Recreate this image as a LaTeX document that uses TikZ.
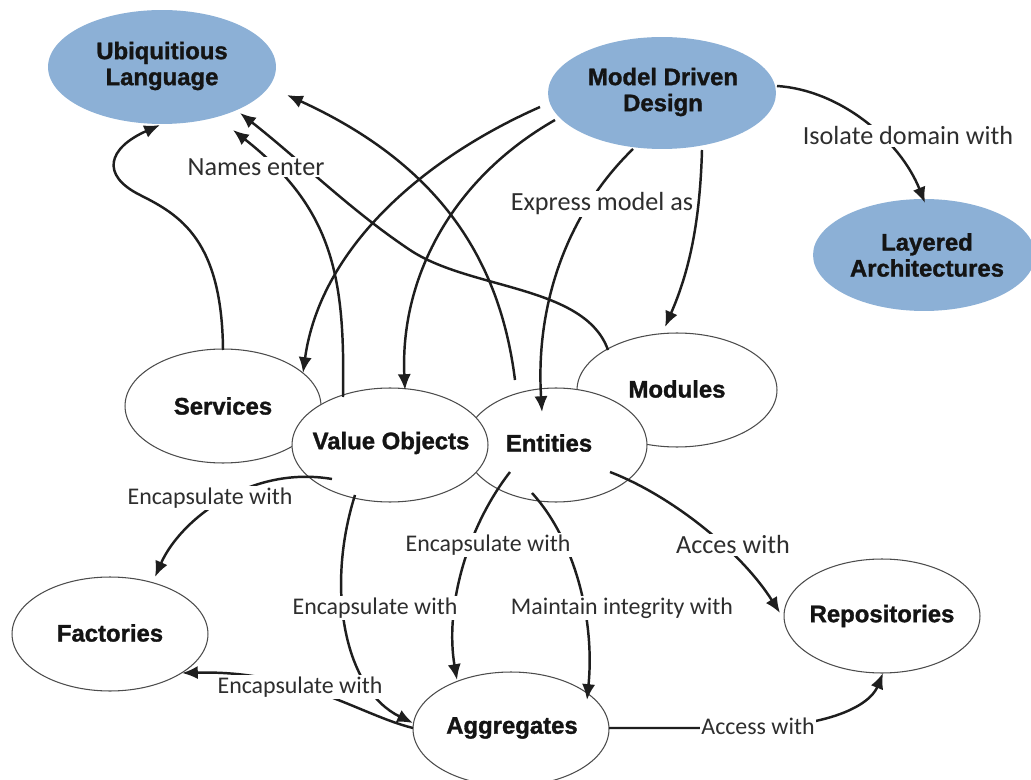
\documentclass[tikz,border=0pt]{standalone}
\usepackage{fontspec}
\setmainfont{Carlito}
\newfontfamily\nodefont[BoldFeatures={FakeBold=1.3}]{Liberation Sans}
\usetikzlibrary{arrows.meta,calc,shapes.geometric}
\definecolor{bluefill}{HTML}{8CB0D6}
\definecolor{linecol}{HTML}{1E1E1E}
\definecolor{labelcol}{HTML}{2E2E2E}
\begin{document}
\begin{tikzpicture}[x=0.02cm,y=-0.02cm,
  blueell/.style={ellipse,fill=bluefill,inner sep=0pt},
  whiteell/.style={ellipse,fill=white,draw=black!70,line width=0.6pt,inner sep=0pt},
  ntext/.style={font=\nodefont\bfseries\fontsize{13.6}{14.8}\selectfont,align=center,text=black!92,inner sep=0pt},
  lbl/.style={font=\fontsize{13.6}{16}\selectfont,text=labelcol,fill=white,inner sep=1pt},
  lblbig/.style={lbl,font=\fontsize{14.9}{17}\selectfont},
  conn/.style={draw=linecol,line width=1.4pt,-{Latex[length=9pt,width=7.5pt]}},
  plainline/.style={draw=linecol,line width=1.4pt}]
\fill[white] (0,0) rectangle (1031,780);
\useasboundingbox (0,0) rectangle (1031,780);

% blue ellipses
\node[blueell,minimum width=4.56cm,minimum height=2.28cm] (ul) at (162,67) {};
\node[blueell,minimum width=4.56cm,minimum height=2.24cm] (mdd) at (662,93) {};
\node[blueell,minimum width=4.44cm,minimum height=2.24cm] (la) at (924,255) {};

% white ellipses
\node[whiteell,minimum width=4.0cm,minimum height=2.28cm] (mod) at (677,390) {};
\node[whiteell,minimum width=3.64cm,minimum height=2.28cm] (ent) at (556,445) {};
\node[whiteell,minimum width=3.92cm,minimum height=2.28cm] (ser) at (223,406) {};
\node[whiteell,minimum width=3.92cm,minimum height=2.28cm] (vo) at (390,445) {};
\node[whiteell,minimum width=3.92cm,minimum height=2.28cm] (fac) at (110,634) {};
\node[whiteell,minimum width=3.92cm,minimum height=2.28cm] (agg) at (511,729) {};
\node[whiteell,minimum width=3.92cm,minimum height=2.28cm] (rep) at (882,616) {};

% texts
\node[ntext] (ulT) at (162,66) {Ubiquitious\\Language};
\node[ntext] (mddT) at (663,92) {Model Driven\\Design};
\node[ntext] (laT) at (927,255) {Layered\\Architectures};
\node[ntext] (modT) at (677,389) {Modules};
\node[ntext] (entT) at (549,443) {Entities};
\node[ntext] (serT) at (223,406) {Services};
\node[ntext] (voT) at (391,443) {Value Objects};
\node[ntext] (facT) at (110,633) {Factories};
\node[ntext] (aggT) at (512,728) {Aggregates};
\node[ntext] (repT) at (882,616) {Repositories};

% connectors
\draw[conn] ($(ser)+(0,-56)$) .. controls (222,240) and (180,215) .. (140,195)
   .. controls (100,175) and (108,148) .. ($(ul)+(-2,58)$);
\draw[conn] ($(vo)+(-47,-48)$) .. controls (345,280) and (335,210) .. ($(ul)+(71,63)$);
\draw[conn] ($(mod)+(-69,-40)$) .. controls (585,285) and (470,290) .. (410,250)
   .. controls (350,210) and (300,160) .. ($(ul)+(78,46)$);
\draw[conn] ($(ent)+(-41,-65)$) .. controls (500,260) and (440,165) .. ($(ul)+(125,28)$);
\draw[conn] ($(mdd)+(-122,14)$) .. controls (420,160) and (320,250) .. ($(ser)+(80,-33)$);
\draw[conn] ($(mdd)+(-107,27)$) .. controls (450,180) and (400,280) .. ($(vo)+(15,-55)$);
\draw[conn] ($(mdd)+(-29,56)$) .. controls (570,210) and (535,300) .. ($(ent)+(-14,-33)$);
\draw[conn] ($(mdd)+(40,57)$) .. controls (700,220) and (690,270) .. ($(mod)+(-12,-63)$);
\draw[conn] ($(mdd)+(115,-7)$) .. controls (840,90) and (900,140) .. ($(la)+(1,-52)$);
\draw[conn] ($(vo)+(-58,34)$) .. controls (250,465) and (180,520) .. ($(fac)+(45,-57)$);
\draw[conn] ($(vo)+(-35,50)$) .. controls (325,590) and (345,690) .. ($(agg)+(-98,-6)$);
\draw[conn] ($(agg)+(-98,-1)$) .. controls (360,715) and (300,670) .. ($(fac)+(72,39)$);
\draw[conn] ($(ent)+(-46,27)$) .. controls (465,530) and (445,610) .. ($(agg)+(-54,-49)$);
\draw[conn] ($(ent)+(-24,48)$) .. controls (575,540) and (595,620) .. ($(agg)+(76,-29)$);
\draw[conn] ($(ent)+(54,27)$) .. controls (670,495) and (740,550) .. ($(rep)+(-102,-3)$);
\draw[conn] ($(agg)+(98,-1)$) -- (740,728) .. controls (830,728) and (870,705) .. ($(rep)+(1,57)$);

% labels
\node[lblbig] (l1) at (256,167) {Names enter};
\node[lblbig] (l2) at (602,204) {Express model as};
\node[lblbig] (l3) at (908,136) {Isolate domain with};
\node[lbl] (l4) at (210,498) {Encapsulate with};
\node[lbl] (l5) at (488,545) {Encapsulate with};
\node[lblbig] (l6) at (733,545) {Acces with};
\node[lbl] (l7) at (375,608) {Encapsulate with};
\node[lbl] (l8) at (622,608) {Maintain integrity with};
\node[lbl] (l9) at (300,687) {Encapsulate with};
\node[lbl] (l10) at (758,726) {Access with};
\end{tikzpicture}
\end{document}
